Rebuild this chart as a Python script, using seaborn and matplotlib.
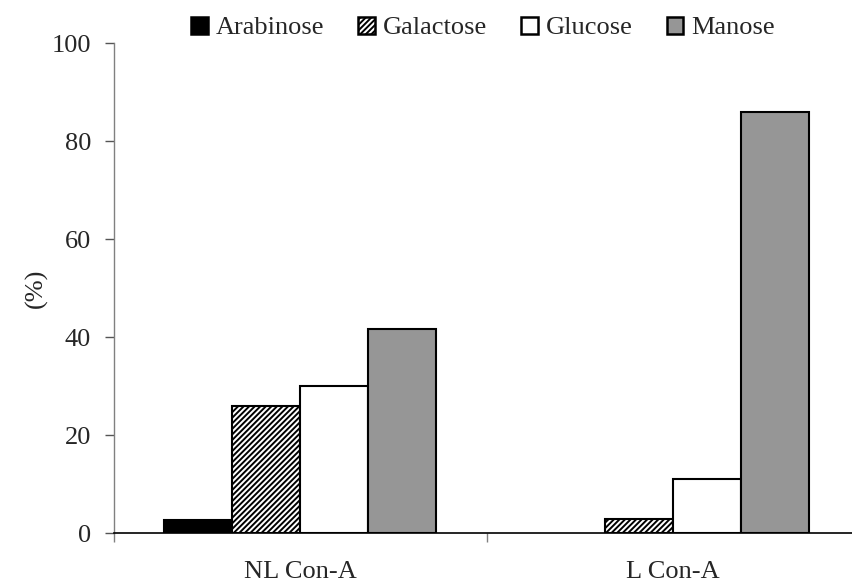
import matplotlib
matplotlib.use("Agg")
import matplotlib.pyplot as plt
from matplotlib.patches import Patch
import seaborn as sns
import pandas as pd
import numpy as np

# values
groups = ["NL Con-A", "L Con-A"]
sugars = ["Arabinose", "Galactose", "Glucose", "Manose"]
arabinose = [2.6, np.nan]
galactose = [26.0, 2.9]
glucose = [30.0, 11.0]
manose = [41.6, 86.0]
y_ticks = [0, 20, 40, 60, 80, 100]

colors = {"Arabinose": "#000000", "Galactose": "#ffffff",
          "Glucose": "#ffffff", "Manose": "#969696"}
hatches = {"Galactose": "//////"}

sns.set_theme(style="white")
plt.rcParams["font.family"] = ["Liberation Serif", "DejaVu Serif"]
plt.rcParams["hatch.linewidth"] = 1.4
plt.rcParams["hatch.color"] = "black"

rows = []
for name, vals in zip(sugars, [arabinose, galactose, glucose, manose]):
    for g, v in zip(groups, vals):
        rows.append({"Group": g, "Sugar": name, "Value": v})
df = pd.DataFrame(rows)

fig = plt.figure(figsize=(8.52, 5.84), dpi=100)
ax = fig.add_axes([114 / 852, 1 - 533 / 584, 745 / 852, 490 / 584])

sns.barplot(data=df, x="Group", y="Value", hue="Sugar", order=groups,
            hue_order=sugars, palette=colors, width=0.73, gap=0,
            edgecolor="black", linewidth=1.5, legend=False, ax=ax)

for name, cont in zip(sugars, ax.containers):
    for bar in cont:
        if name in hatches:
            bar.set_hatch(hatches[name])

fs = 19
ax.set_xlim(-0.5, 1.5)
ax.set_ylim(0, 100)
ax.set_yticks(y_ticks)
ax.set_xlabel("")
ax.set_ylabel("(%)", fontsize=fs)
ax.yaxis.set_label_coords(-0.089, 0.5)

# category separators as minor ticks, labels on the major ones
ax.set_xticks([-0.5, 0.5, 1.5], minor=True)
ax.tick_params(axis="x", which="major", length=0, pad=20, labelsize=fs)
ax.tick_params(axis="x", which="minor", length=6.5, width=1, color="#808080",
               direction="out", bottom=True)
ax.tick_params(axis="y", which="major", length=6.5, width=1, color="#555555",
               direction="out", left=True, pad=10, labelsize=fs)

sns.despine(ax=ax)
ax.spines["left"].set_color("#808080")
ax.spines["left"].set_linewidth(1)
ax.spines["bottom"].set_color("black")
ax.spines["bottom"].set_linewidth(1.2)

handles = [Patch(facecolor=colors[s], edgecolor="black", linewidth=1.8,
                 hatch=hatches.get(s, "")) for s in sugars]
fig.legend(handles, sugars, loc="center", bbox_to_anchor=(483 / 852, 1 - 28 / 584),
           ncol=4, frameon=False, fontsize=fs, handlelength=0.62,
           handleheight=0.62, handletextpad=0.3, columnspacing=1.3)

fig.savefig("out.png", dpi=100)
